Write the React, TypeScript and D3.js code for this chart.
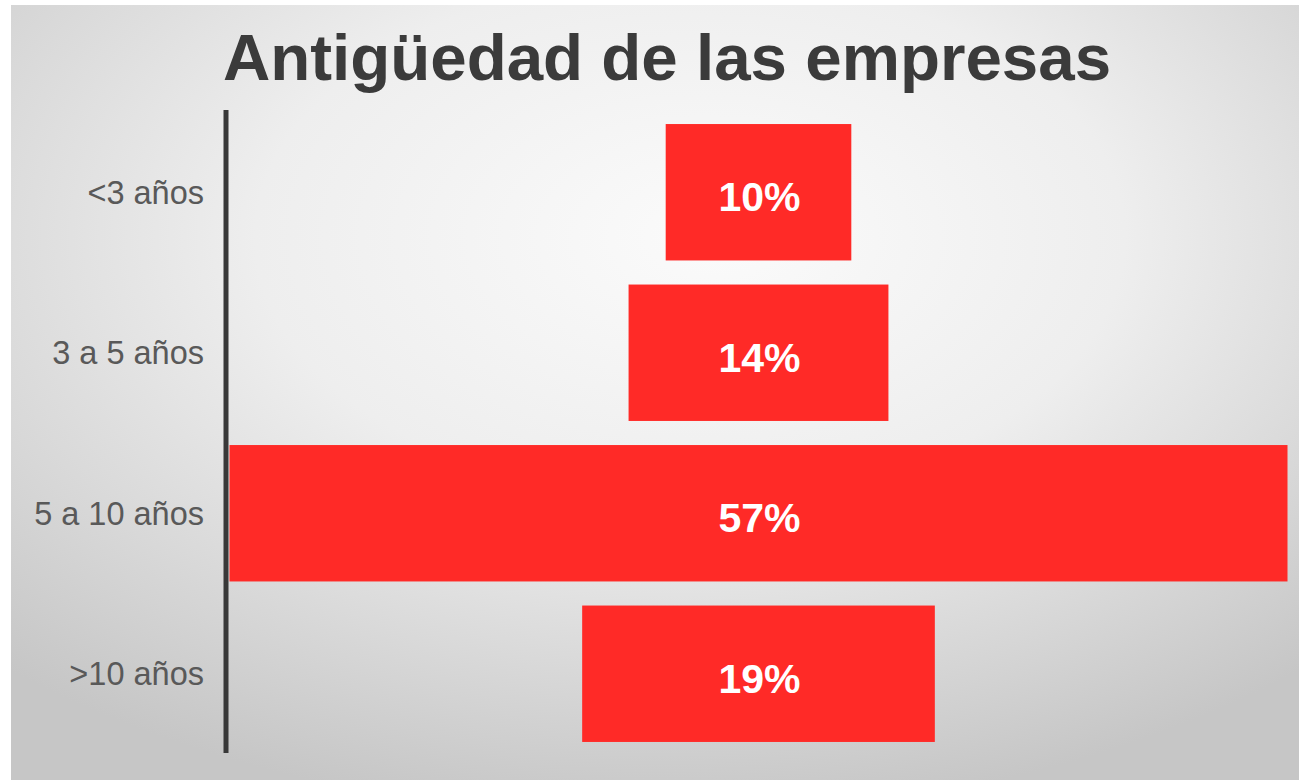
import React from "react";
import * as d3 from "d3";

const categories = ["<3 años", "3 a 5 años", "5 a 10 años", ">10 años"];
const values = [10, 14, 57, 19];
const valueLabels = ["10%", "14%", "57%", "19%"];
const title = "Antigüedad de las empresas";

const W = 1299;
const H = 780;

export default function App() {
  const x = d3.scaleLinear().domain([0, 57]).range([0, 1058]);
  const y = d3
    .scaleBand<string>()
    .domain(categories)
    .range([112, 754])
    .paddingInner(0.15)
    .paddingOuter(0.075);
  const cx = 758.5;
  const font = "'Liberation Sans', Arial, Helvetica, sans-serif";

  return (
    <svg
      width={W}
      height={H}
      style={{ position: "absolute", left: 0, top: 0, display: "block" }}
    >
      <defs>
        <radialGradient id="bg" cx="0.5" cy="0.3" r="0.75" fx="0.55" fy="0.3">
          <stop offset="0" stopColor="#fbfbfb" />
          <stop offset="0.45" stopColor="#eeeeee" />
          <stop offset="1" stopColor="#c6c6c6" />
        </radialGradient>
      </defs>
      <rect x={0} y={0} width={W} height={H} fill="#ffffff" />
      <rect x={11} y={5} width={W - 11} height={H - 5} fill="url(#bg)" />
      <text
        x={667}
        y={80}
        textAnchor="middle"
        fontFamily={font}
        fontWeight="bold"
        fontSize={65.5}
        fill="#3b3b3b"
      >
        {title}
      </text>
      <line x1={226} x2={226} y1={110} y2={753} stroke="#383838" strokeWidth={5} />
      {categories.map((c, i) => {
        const w = x(values[i]);
        const yy = y(c) as number;
        const bh = y.bandwidth();
        return (
          <g key={c}>
            <text
              x={204}
              y={yy + bh / 2}
              dy="0.35em"
              textAnchor="end"
              fontFamily={font}
              fontSize={32.5}
              fill="#595959"
            >
              {c}
            </text>
            <rect x={cx - w / 2} y={yy} width={w} height={bh} fill="#ff2a27" />
            <text
              x={cx + 1}
              y={yy + bh / 2}
              dy="0.46em"
              textAnchor="middle"
              fontFamily={font}
              fontWeight="bold"
              fontSize={41}
              fill="#ffffff"
            >
              {valueLabels[i]}
            </text>
          </g>
        );
      })}
    </svg>
  );
}
